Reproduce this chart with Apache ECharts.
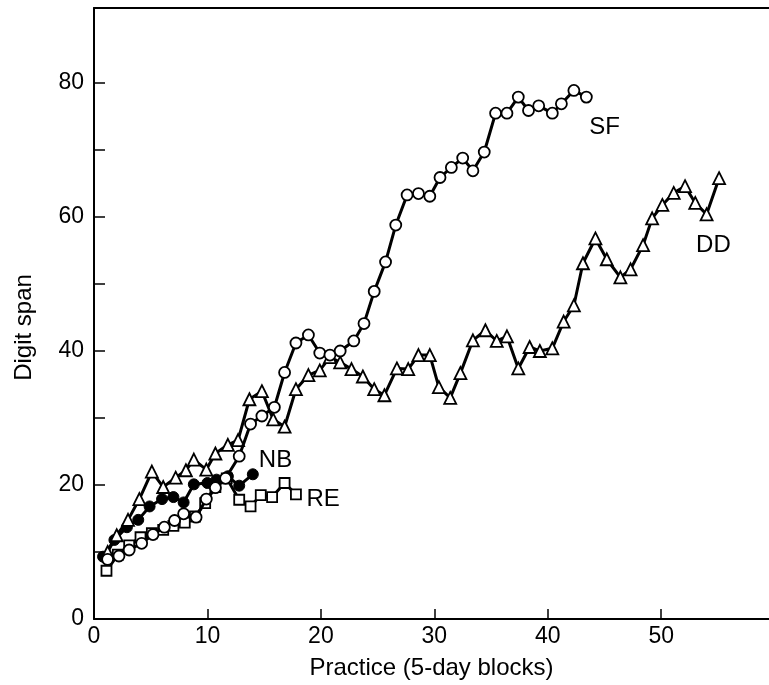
<!DOCTYPE html>
<html>
<head>
<meta charset="utf-8">
<script src="https://cdn.jsdelivr.net/npm/echarts@6/dist/echarts.min.js"></script>
<style>
html,body{margin:0;padding:0;background:#fff;}
#chart{width:769px;height:685px;}
</style>
</head>
<body>
<div id="chart"></div>
<script>
// ---- data (x = practice block, y = digit span) ----
const sfX = [1.2,2.2,3.1,4.2,5.2,6.2,7.1,7.9,9.0,9.9,10.7,11.6,12.8,13.8,14.8,15.9,16.8,17.8,18.9,19.9,20.8,21.7,22.9,23.8,24.7,25.7,26.6,27.6,28.6,29.6,30.5,31.5,32.5,33.4,34.4,35.4,36.4,37.4,38.3,39.2,40.4,41.2,42.3,43.4];
const sfY = [8.9,9.4,10.3,11.3,12.6,13.7,14.7,15.7,15.2,17.9,19.6,21.0,24.3,29.1,30.3,31.6,36.8,41.2,42.4,39.7,39.4,40.0,41.5,44.1,48.9,53.3,58.8,63.3,63.5,63.1,65.9,67.4,68.8,66.9,69.7,75.5,75.5,77.9,75.9,76.6,75.5,76.9,78.9,77.9];

const ddX = [1.2,2.0,3.0,4.0,5.1,6.1,7.2,8.1,8.8,9.9,10.7,11.8,12.7,13.7,14.8,15.8,16.8,17.8,18.9,19.9,20.8,21.7,22.7,23.7,24.7,25.6,26.7,27.7,28.6,29.6,30.4,31.4,32.3,33.4,34.5,35.5,36.4,37.4,38.4,39.3,40.4,41.4,42.3,43.1,44.2,45.2,46.4,47.3,48.4,49.2,50.1,51.1,52.1,53.0,54.0,55.1];
const ddY = [10.0,12.5,14.8,17.9,22.0,19.7,21.1,22.2,23.8,22.3,24.7,26.0,26.7,32.8,34.0,29.8,28.7,34.3,36.4,37.1,39.1,38.3,37.3,36.2,34.3,33.4,37.4,37.3,39.4,39.4,34.6,33.0,36.7,41.6,43.1,41.5,42.2,37.4,40.6,40.0,40.4,44.4,46.8,53.1,56.8,53.7,51.0,52.2,55.8,59.8,61.8,63.6,64.6,62.1,60.4,65.8];

const nbX = [0.8,1.8,2.9,3.9,4.9,6.0,7.0,7.9,8.8,10.0,10.8,11.8,12.8,14.0];
const nbY = [9.3,11.8,13.7,14.8,16.8,17.9,18.2,17.4,20.1,20.3,20.8,21.3,19.9,21.6];

const reX = [1.1,2.1,3.1,4.1,5.1,6.1,7.0,8.0,8.9,9.8,10.7,11.7,12.8,13.8,14.7,15.7,16.8,17.8];
const reY = [7.2,9.6,11.0,12.2,12.8,13.3,13.9,14.4,15.3,17.3,19.7,21.0,17.8,16.8,18.5,18.2,20.3,18.6];

// series name labels and where they sit (data coordinates)
const labelNames = ['SF','DD','NB','RE'];
const labelX = [45.0, 54.6, 16.0, 20.2];
const labelY = [73.4, 55.7, 23.7, 17.9];

// axis ticks / labels
const xLabelVals = [0,10,20,30,40,50];
const yTickVals = [0,10,20,30,40,50,60,70,80];
const yLabelVals = [0,20,40,60,80];

const pair = (xs, ys) => xs.map((x, i) => [x, ys[i]]);

const FONT = '"Liberation Sans", Arial, Helvetica, sans-serif';
const INK = '#000000';

const chart = echarts.init(document.getElementById('chart'), null, {renderer: 'canvas'});

const lineBase = {
  type: 'line',
  lineStyle: {color: INK, width: 3},
  itemStyle: {color: '#fff', borderColor: INK, borderWidth: 1.8},
  emphasis: {disabled: true},
  animation: false
};

chart.setOption({
  backgroundColor: '#fff',
  animation: false,
  grid: {left: 94, right: 0, top: 8, bottom: 66},
  xAxis: [{
    type: 'value', min: 0, max: 59.5,
    name: 'Practice (5-day blocks)', nameLocation: 'middle', nameGap: 37,
    nameTextStyle: {fontFamily: FONT, fontSize: 24, color: INK},
    splitLine: {show: false},
    axisLine: {show: true, lineStyle: {color: INK, width: 2}},
    axisTick: {show: true, inside: true, length: 10, customValues: xLabelVals, lineStyle: {color: INK, width: 1.5}},
    axisLabel: {show: true, customValues: xLabelVals, margin: 6, fontFamily: FONT, fontSize: 23, color: INK}
  }, {
    type: 'value', min: 0, max: 59.5, position: 'top',
    splitLine: {show: false},
    axisLine: {show: true, lineStyle: {color: INK, width: 2}},
    axisTick: {show: false}, axisLabel: {show: false}
  }],
  yAxis: [{
    type: 'value', min: 0, max: 91.2,
    name: 'Digit span', nameLocation: 'middle', nameGap: 58,
    nameTextStyle: {fontFamily: FONT, fontSize: 24, color: INK, padding: [0, 28, 0, 0]},
    splitLine: {show: false},
    axisLine: {show: true, lineStyle: {color: INK, width: 2}},
    axisTick: {show: true, inside: true, length: 11, customValues: yTickVals, lineStyle: {color: INK, width: 1.5}},
    axisLabel: {show: true, customValues: yLabelVals, margin: 10, fontFamily: FONT, fontSize: 23, color: INK}
  }],
  series: [
    Object.assign({}, lineBase, {
      name: 'RE', data: pair(reX, reY), symbol: 'rect', symbolSize: 10, z: 2
    }),
    Object.assign({}, lineBase, {
      name: 'NB', data: pair(nbX, nbY), symbol: 'circle', symbolSize: 11, z: 3,
      itemStyle: {color: INK, borderColor: INK, borderWidth: 1}
    }),
    Object.assign({}, lineBase, {
      name: 'DD', data: pair(ddX, ddY), symbol: 'triangle', symbolSize: 12, z: 4
    }),
    Object.assign({}, lineBase, {
      name: 'SF', data: pair(sfX, sfY), symbol: 'circle', symbolSize: 11, z: 5
    }),
    {
      type: 'scatter', name: 'labels', symbolSize: 0, z: 6, silent: true,
      itemStyle: {color: INK, opacity: 1},
      emphasis: {disabled: true},
      data: labelNames.map((n, i) => ({value: [labelX[i], labelY[i]], name: n})),
      label: {show: true, position: 'inside', formatter: p => p.name,
        fontFamily: FONT, fontSize: 24, color: INK, opacity: 1,
        textBorderWidth: 0, textBorderColor: 'transparent'},
      animation: false
    }
  ]
});
</script>
</body>
</html>
